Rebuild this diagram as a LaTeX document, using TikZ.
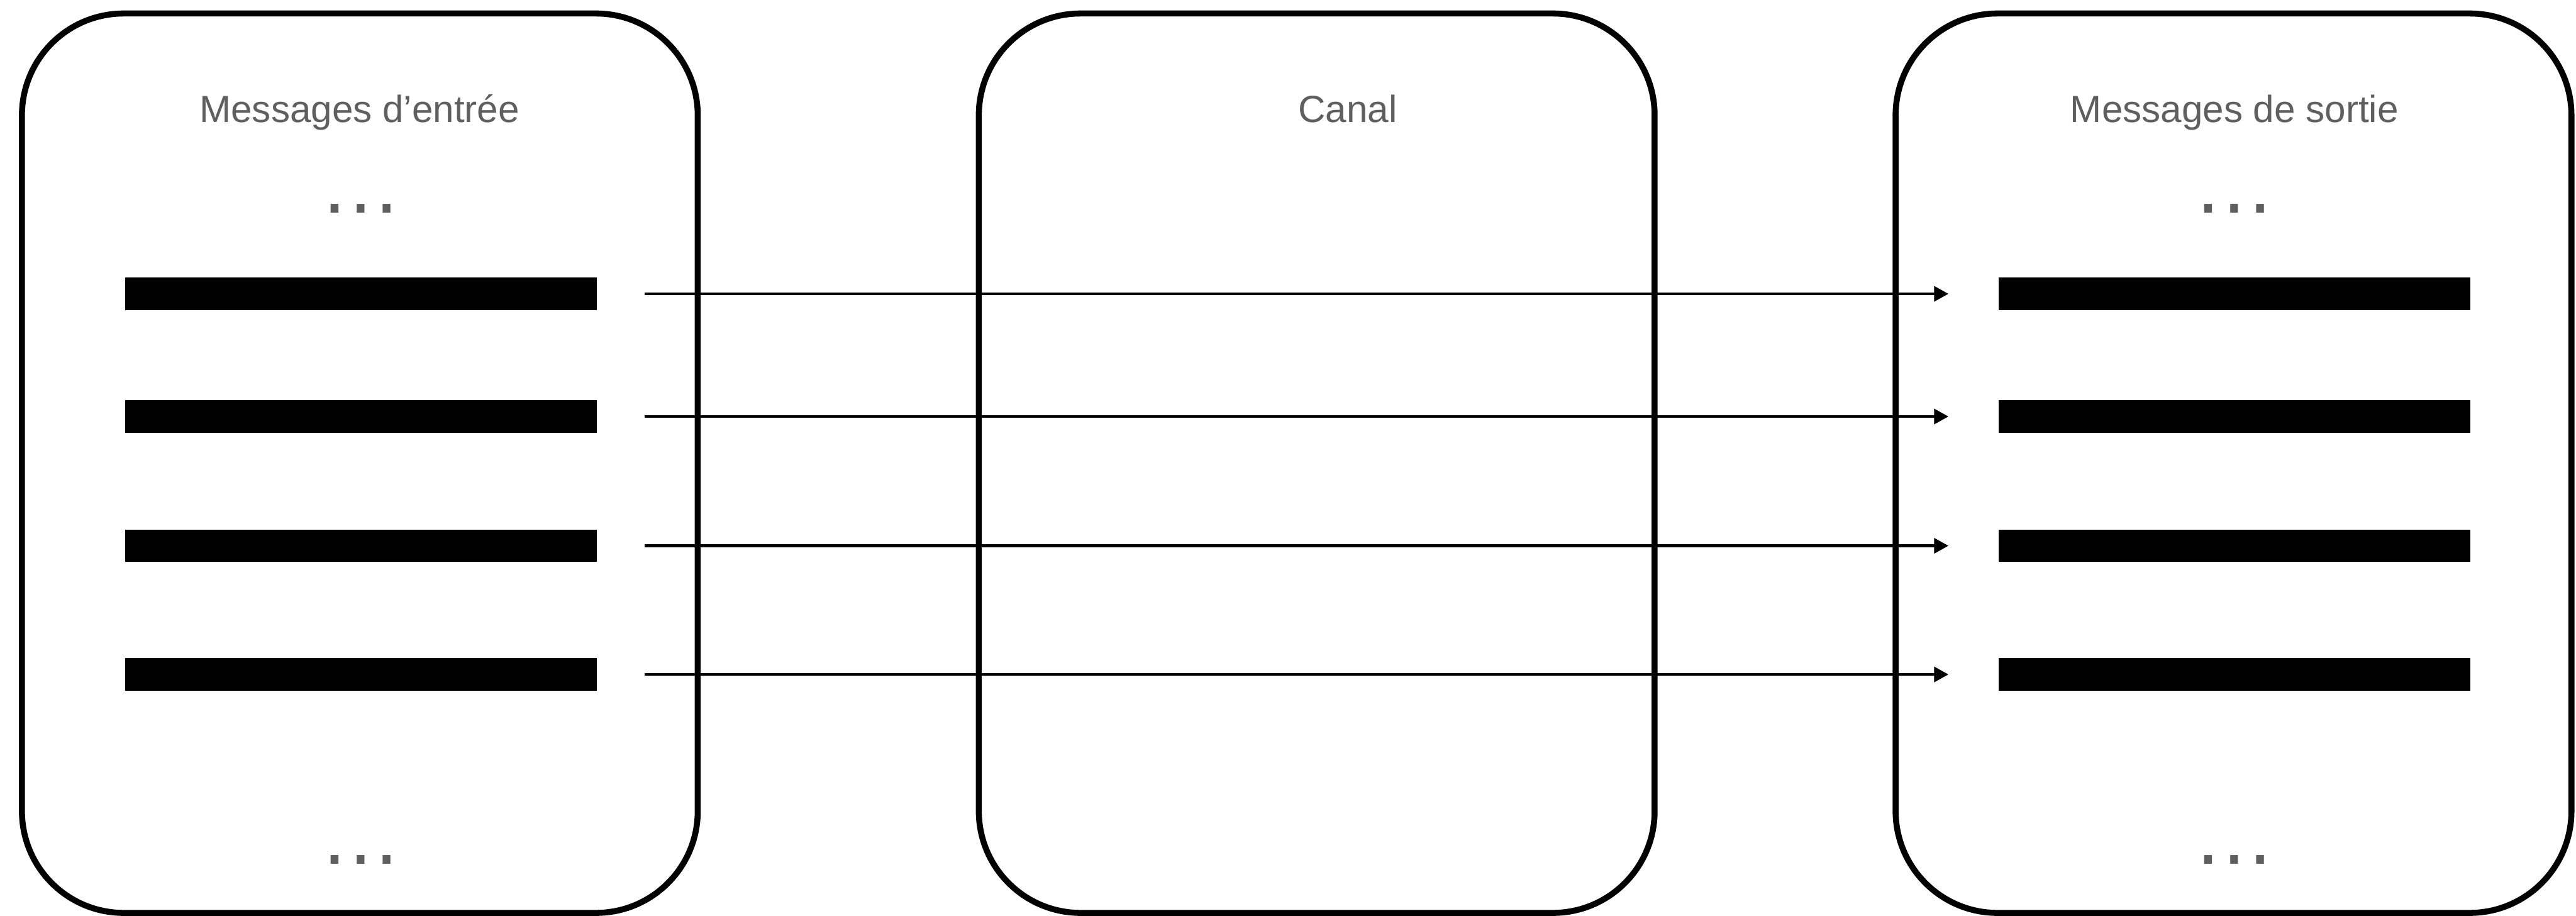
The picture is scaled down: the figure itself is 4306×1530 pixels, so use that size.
\documentclass[tikz,border=0pt]{standalone}
\usepackage{fontspec}
\setmainfont{Liberation Sans}
\usetikzlibrary{arrows.meta}

\definecolor{texte}{HTML}{5F5F5F}

\begin{document}
\begin{tikzpicture}[x=0.01cm,y=-0.01cm]
        \tikzstyle{cadre}=[draw,line width=2.85pt,rounded corners=1.7cm,
        minimum width=11.29cm,minimum height=15.02cm,inner sep=0pt]
        \tikzstyle{titre}=[anchor=base,text=texte,inner sep=0pt,
        font=\fontsize{18}{22}\selectfont]
        \tikzstyle{points}=[anchor=base,text=texte,inner sep=0pt,
        font=\fontsize{39}{40}\selectfont]
        \tikzstyle{message}=[fill=black,minimum width=7.88cm,minimum height=0.54cm,inner sep=0pt]
        \tikzstyle{envoi}=[line width=1.4pt,-{Triangle[length=0.24cm,width=0.25cm]},
        shorten <=0.8cm,shorten >=0.83cm]
        \useasboundingbox (0,0) rectangle (4306,1530);

        % les trois cadres
        \node[cadre] (entree) at (601.5,774) {};
        \node[cadre] (canal) at (2201,774) {};
        \node[cadre] (sortie) at (3733.5,774) {};

        \node[titre] (t-entree) at (601,204) {Messages d’entrée};
        \node[titre] (t-canal) at (2253,204) {Canal};
        \node[titre] (t-sortie) at (3735,204) {Messages de sortie};

        \node[points] (p-entree-haut) at (603,356) {…};
        \node[points] (p-entree-bas) at (603,1444) {…};
        \node[points] (p-sortie-haut) at (3735,356) {…};
        \node[points] (p-sortie-bas) at (3735,1444) {…};

        % messages et envois
        \foreach \i/\y in {1/491,2/696,3/912,4/1127} {
          \node[message] (in\i) at (603,\y) {};
          \node[message] (out\i) at (3735,\y) {};
          \draw[envoi] (in\i) -- (out\i);
        }
      \end{tikzpicture}
\end{document}
